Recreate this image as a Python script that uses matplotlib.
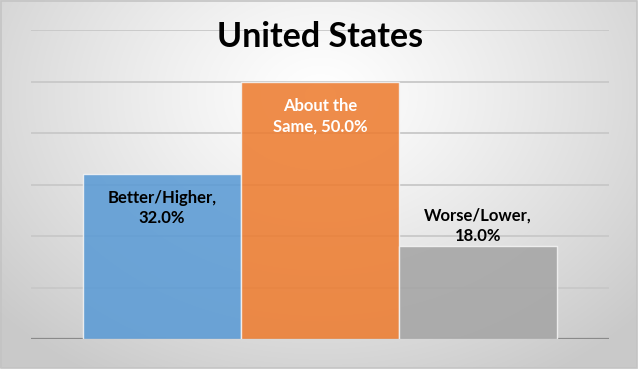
import numpy as np
import matplotlib
matplotlib.use("Agg")
import matplotlib.pyplot as plt
from matplotlib.patches import Rectangle

title = "United States"
categories = ["Better/Higher", "About the Same", "Worse/Lower"]
values = [32.0, 50.0, 18.0]
label_texts = ["Better/Higher,\n32.0%", "About the\nSame, 50.0%", "Worse/Lower,\n18.0%"]
colors = ["#5B9BD5", "#ED7D31", "#A5A5A5"]
label_colors = ["black", "white", "black"]
yticks = [0, 10, 20, 30, 40, 50, 60]

W, H = 640, 371
fig = plt.figure(figsize=(W / 100, H / 100), dpi=100)

# background radial gradient
bg = fig.add_axes([0, 0, 1, 1])
bg.set_axis_off()
yy, xx = np.mgrid[0:H, 0:W]
cx, cy = 320, 95
r = np.sqrt(((xx - cx) / 430) ** 2 + ((yy - cy) / 330) ** 2)
r = np.clip(r, 0, 1)
val = 1.0 - 0.21 * r ** 1.2
img = np.dstack([val, val, val])
bg.imshow(img, extent=[0, W, H, 0], aspect="auto", interpolation="bilinear")
bg.set_xlim(0, W)
bg.set_ylim(H, 0)
# white outer margin and border
for (x0, y0, w, h) in [(0, H - 3, W, 3), (W - 3, 0, 3, H)]:
    bg.add_patch(Rectangle((x0, y0), w, h, facecolor="white", edgecolor="none"))
bg.add_patch(Rectangle((0.5, 0.5), W - 3.5, H - 3.5, facecolor="none",
                       edgecolor="#c4c4c4", linewidth=1.2))

# plot area: x 31..609, y 30..339 (pixels from top)
left, right, top, bottom = 31, 609, 30, 339
ax = fig.add_axes([left / W, 1 - bottom / H, (right - left) / W, (bottom - top) / H])
ax.set_facecolor("none")
x = np.array([-1, 0, 1])
bw = 1.0
half = (right - left) / 158 / 2
ax.set_xlim(-half, half)
ax.set_ylim(0, 60)

for yv in yticks[1:]:
    ax.axhline(yv, color="#c8c8c8", linewidth=1.3, zorder=1)
ax.axhline(0, color="#8a8a8a", linewidth=1.6, zorder=1)

ax.bar(x, values, width=bw, color=colors, alpha=0.88, edgecolor="#f4f4f4",
       linewidth=1.0, zorder=2)

font = "Lato"
offsets = [-6.6, -6.7, 3.9]
for xi, v, t, c, off in zip(x, values, label_texts, label_colors, offsets):
    ax.text(xi, v + off, t, ha="center", va="center", color=c,
            fontsize=12, fontweight="bold", family=font, linespacing=1.35, zorder=3)

for s in ax.spines.values():
    s.set_visible(False)
ax.set_xticks([])
ax.set_yticks([])

fig.text(0.5, 1 - 37 / H, title, ha="center", va="center", fontsize=24.5,
         fontweight="bold", family=font, color="black")

fig.savefig("out.png", dpi=100)
